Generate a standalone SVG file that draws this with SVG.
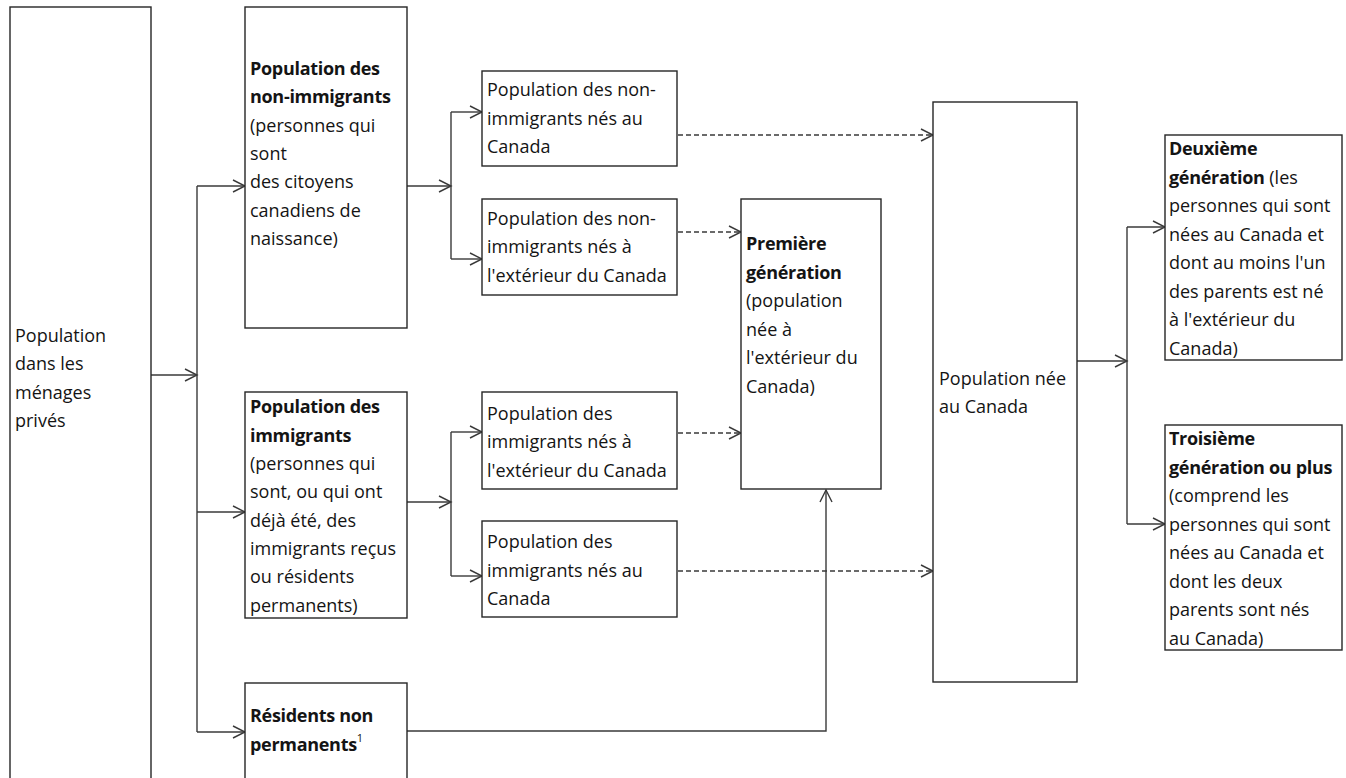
<svg xmlns="http://www.w3.org/2000/svg" width="1346" height="778" viewBox="0 0 1346 778">
<style>
.box{fill:#fff;stroke:#262626;stroke-width:1.4}
.t{font-family:"Open Sans","Liberation Sans",sans-serif;font-size:18px;fill:#141414}
.b{font-weight:bold;letter-spacing:-0.3px}
.c{fill:none;stroke:#3a3a3a;stroke-width:1.4}
.d{fill:none;stroke:#3a3a3a;stroke-width:1.4;stroke-dasharray:5 3}
</style>
<defs>
<marker id="ar" markerUnits="userSpaceOnUse" markerWidth="14" markerHeight="14" refX="12" refY="6" orient="auto" overflow="visible">
<path d="M0,0 L12,6 L0,12" fill="none" stroke="#3a3a3a" stroke-width="1.4"/>
</marker>
</defs>
<rect width="1346" height="778" fill="#fff"/>
<g id="connectors">
<path class="c" d="M151,375 H197" marker-end="url(#ar)"/>
<path class="c" d="M197,186 V732"/>
<path class="c" d="M197,186 H245" marker-end="url(#ar)"/>
<path class="c" d="M197,512 H245" marker-end="url(#ar)"/>
<path class="c" d="M197,732 H245" marker-end="url(#ar)"/>
<path class="c" d="M407,186 H451" marker-end="url(#ar)"/>
<path class="c" d="M451,112 V259"/>
<path class="c" d="M451,112 H482" marker-end="url(#ar)"/>
<path class="c" d="M451,259 H482" marker-end="url(#ar)"/>
<path class="c" d="M407,502 H451" marker-end="url(#ar)"/>
<path class="c" d="M451,432 V576"/>
<path class="c" d="M451,432 H482" marker-end="url(#ar)"/>
<path class="c" d="M451,576 H482" marker-end="url(#ar)"/>
<path class="d" d="M678,135 H933" marker-end="url(#ar)"/>
<path class="d" d="M678,232 H741" marker-end="url(#ar)"/>
<path class="d" d="M678,433 H741" marker-end="url(#ar)"/>
<path class="d" d="M678,571 H933" marker-end="url(#ar)"/>
<path class="c" d="M407,731 H826 V490" marker-end="url(#ar)"/>
<path class="c" d="M1077,361 H1127" marker-end="url(#ar)"/>
<path class="c" d="M1127,227 V524"/>
<path class="c" d="M1127,227 H1165" marker-end="url(#ar)"/>
<path class="c" d="M1127,524 H1165" marker-end="url(#ar)"/>
</g>
<g id="node-menages">
<rect class="box" x="10" y="7" width="141" height="790"/>
<text class="t" x="15" y="342">Population</text>
<text class="t" x="15" y="370.4">dans les</text>
<text class="t" x="15" y="398.7">ménages</text>
<text class="t" x="15" y="427">privés</text>
</g>
<g id="node-non-immigrants">
<rect class="box" x="245" y="7" width="162" height="321"/>
<text class="t b" x="250" y="75">Population des</text>
<text class="t b" x="250" y="103.3">non-immigrants</text>
<text class="t" x="250" y="131.7">(personnes qui</text>
<text class="t" x="250" y="160">sont</text>
<text class="t" x="250" y="188.3">des citoyens</text>
<text class="t" x="250" y="216.7">canadiens de</text>
<text class="t" x="250" y="245">naissance)</text>
</g>
<g id="node-non-imm-canada">
<rect class="box" x="482" y="71" width="195" height="95"/>
<text class="t" x="487" y="96">Population des non-</text>
<text class="t" x="487" y="124.5">immigrants nés au</text>
<text class="t" x="487" y="153">Canada</text>
</g>
<g id="node-non-imm-ext">
<rect class="box" x="482" y="199" width="195" height="96"/>
<text class="t" x="487" y="224.5">Population des non-</text>
<text class="t" x="487" y="253">immigrants nés à</text>
<text class="t" x="487" y="281.5">l'extérieur du Canada</text>
</g>
<g id="node-premiere">
<rect class="box" x="741" y="199" width="140" height="290"/>
<text class="t b" x="746" y="250">Première</text>
<text class="t b" x="746" y="278.5">génération</text>
<text class="t" x="746" y="307">(population</text>
<text class="t" x="746" y="335.5">née à</text>
<text class="t" x="746" y="364">l'extérieur du</text>
<text class="t" x="746" y="392.5">Canada)</text>
</g>
<g id="node-immigrants">
<rect class="box" x="245" y="392" width="162" height="226"/>
<text class="t b" x="250" y="413.3">Population des</text>
<text class="t b" x="250" y="441.6">immigrants</text>
<text class="t" x="250" y="470">(personnes qui</text>
<text class="t" x="250" y="498.3">sont, ou qui ont</text>
<text class="t" x="250" y="526.6">déjà été, des</text>
<text class="t" x="250" y="555">immigrants reçus</text>
<text class="t" x="250" y="583.3">ou résidents</text>
<text class="t" x="250" y="611.6">permanents)</text>
</g>
<g id="node-imm-ext">
<rect class="box" x="482" y="392" width="195" height="97"/>
<text class="t" x="487" y="419.5">Population des</text>
<text class="t" x="487" y="448">immigrants nés à</text>
<text class="t" x="487" y="476.5">l'extérieur du Canada</text>
</g>
<g id="node-imm-canada">
<rect class="box" x="482" y="521" width="195" height="96"/>
<text class="t" x="487" y="548">Population des</text>
<text class="t" x="487" y="576.5">immigrants nés au</text>
<text class="t" x="487" y="605">Canada</text>
</g>
<g id="node-residents">
<rect class="box" x="245" y="683" width="162" height="120"/>
<text class="t b" x="250" y="722">Résidents non</text>
<text class="t b" x="250" y="751">permanents<tspan font-size="11" font-weight="normal" dy="-9">1</tspan></text>
</g>
<g id="node-nee-canada">
<rect class="box" x="933" y="102" width="144" height="580"/>
<text class="t" x="939" y="384.5">Population née</text>
<text class="t" x="939" y="413">au Canada</text>
</g>
<g id="node-deuxieme">
<rect class="box" x="1165" y="135" width="177" height="225"/>
<text class="t b" x="1169" y="155">Deuxième</text>
<text class="t" x="1169" y="183.5"><tspan class="b">génération</tspan> (les</text>
<text class="t" x="1169" y="212">personnes qui sont</text>
<text class="t" x="1169" y="240.5">nées au Canada et</text>
<text class="t" x="1169" y="269">dont au moins l'un</text>
<text class="t" x="1169" y="297.5">des parents est né</text>
<text class="t" x="1169" y="326">à l'extérieur du</text>
<text class="t" x="1169" y="354.5">Canada)</text>
</g>
<g id="node-troisieme">
<rect class="box" x="1165" y="425" width="177" height="225"/>
<text class="t b" x="1169" y="445">Troisième</text>
<text class="t b" x="1169" y="473.5">génération ou plus</text>
<text class="t" x="1169" y="502">(comprend les</text>
<text class="t" x="1169" y="530.5">personnes qui sont</text>
<text class="t" x="1169" y="559">nées au Canada et</text>
<text class="t" x="1169" y="587.5">dont les deux</text>
<text class="t" x="1169" y="616">parents sont nés</text>
<text class="t" x="1169" y="644.5">au Canada)</text>
</g>
</svg>
